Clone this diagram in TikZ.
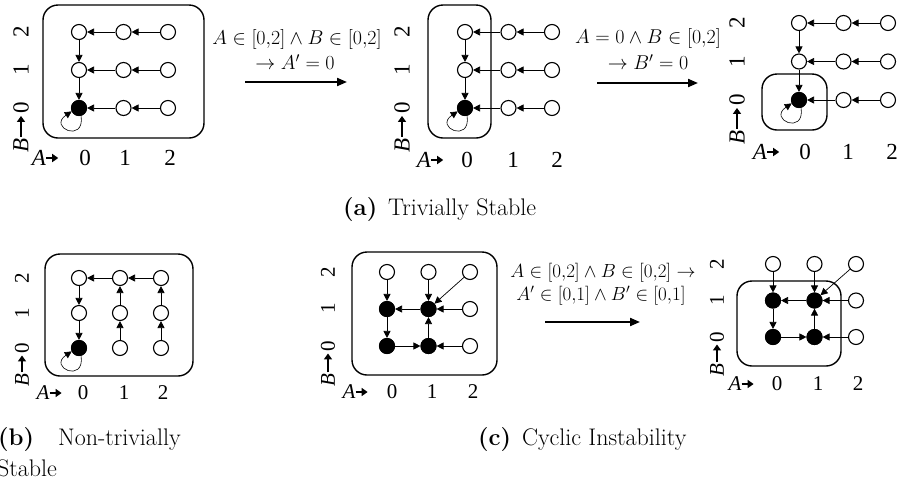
\RequirePackage{fix-cm}
\documentclass[tikz,border=0pt]{standalone}
\usepackage{fontspec}
\newfontfamily\axfont{Liberation Serif}
\usetikzlibrary{arrows.meta}
\tikzset{
 st/.style={circle,draw,line width=1.1pt,minimum size=15pt,inner sep=0pt,fill=white},
 edge/.style={line width=0.7pt,-{Triangle[length=7pt,width=7pt]}},
 loopedge/.style={line width=0.6pt,-{Triangle[length=7pt,width=7pt]}},
 frame/.style={draw,line width=1.4pt,rounded corners=15pt},
 axl/.style={font=\axfont\fontsize{23}{27}\selectfont,inner sep=0pt},
 axarr/.style={line width=2pt,-{Triangle[length=6pt,width=8pt]}},
 trans/.style={line width=2pt,-{Triangle[length=10pt,width=8pt]}},
 lab/.style={font=\fontsize{20}{24}\selectfont,inner sep=0pt},
 clab/.style={font=\fontsize{19}{22}\selectfont,inner sep=0pt},
 capt/.style={font=\fontsize{24}{28}\selectfont,inner sep=0pt,anchor=west}
}
\newcommand\mkgrid[5]{\foreach \i in {0,1,2}{\foreach \j in {0,1,2}{\node[st] (#1\i\j) at ({#2+\i*#4},{#3-\j*#5}) {};}}}
\newcommand\fillst[1]{\foreach \n in {#1}{\fill (\n.center) circle[radius=8pt];}}
\newcommand\selfloop[1]{\draw[loopedge] (#1.-75) .. controls +(4,28) and +(-24,16) .. (#1.205);}
\newcommand\vaxis[6]{%
 \node[axl,rotate=90] (#1v0) at (#2,#3) {0};
 \node[axl,rotate=90] (#1v1) at (#2,#4) {1};
 \node[axl,rotate=90] (#1v2) at (#2,#5) {2};
 \node[axl,rotate=90] (#1vB) at (#2,#6) {\itshape B};
 \draw[axarr,shorten <=1pt,shorten >=2pt] (#1vB.east) -- (#1v0.west);}
\newcommand\haxis[6]{%
 \node[axl] (#1hA) at (#3,#2) {\itshape A};
 \node[axl] (#1h0) at (#4,#2) {0};
 \node[axl] (#1h1) at (#5,#2) {1};
 \node[axl] (#1h2) at (#6,#2) {2};
 \coordinate (#1hAs) at ([xshift=0pt]#1hA.east);
 \coordinate (#1hAe) at ([xshift=12pt]#1hA.east);
 \draw[axarr] (#1hAs) -- (#1hAe);}
\newcommand\aedges[1]{\foreach \s/\t in {20/10,10/00,21/11,11/01,22/12,12/02,02/01,01/00}{\draw[edge] (#1\s) -- (#1\t);}\selfloop{#100}}
\newcommand\cedges[1]{\foreach \s/\t in {02/01,12/11,22/11,11/01,21/11,01/00,00/10,10/11,20/10}{\draw[edge] (#1\s) -- (#1\t);}}
\begin{document}
\begin{tikzpicture}[x=1pt,y=-1pt]
\useasboundingbox (0,0) rectangle (903,483);
% frames
\draw[frame] (43,5) rectangle (204,138);
\draw[frame] (428,5) rectangle (491,138);
\draw[frame] (762,74) rectangle (827,130);
\draw[frame] (45,254) rectangle (193,376);
\draw[frame] (352,252) rectangle (497,375);
\draw[frame] (737,281) rectangle (841,366);
% grids
\mkgrid{a1}{79}{108}{44.5}{38}
\mkgrid{a2}{465}{108}{43.5}{38}
\mkgrid{a3}{799}{100}{44.5}{38.5}
\mkgrid{b}{79}{348}{41}{35}
\mkgrid{c1}{387}{346}{41.5}{37}
\mkgrid{c2}{773}{337}{41.5}{36.5}
\fillst{a100,a200,a300,b00,c101,c111,c100,c110,c201,c211,c200,c210}
% edges
\aedges{a1}
\aedges{a2}
\aedges{a3}
\foreach \s/\t in {22/12,12/02,02/01,01/00,10/11,11/12,20/21,21/22}{\draw[edge] (b\s) -- (b\t);}
\selfloop{b00}
\cedges{c1}
\cedges{c2}
% axes
\vaxis{a1}{21}{108}{70}{32}{145}
\haxis{a1}{158}{39}{85}{125}{170}
\vaxis{a2}{402}{108}{70}{32}{145}
\haxis{a2}{160}{424}{467}{513}{557}
\vaxis{a3}{737}{100}{62}{23}{137}
\haxis{a3}{152}{760}{805}{848}{892}
\begin{scope}[axl/.style={font=\axfont\fontsize{21}{25}\selectfont,inner sep=0pt}]
\vaxis{b}{22}{348}{313}{278}{380}
\haxis{b}{393}{43}{83}{124}{163}
\vaxis{c1}{328}{346}{308}{272}{380}
\haxis{c1}{392}{349}{392}{432}{473}
\vaxis{c2}{717}{337}{300}{264}{370}
\haxis{c2}{384}{735}{777}{818}{858}
\end{scope}
% transitions
\node[lab] (t1a) at (297,39) {$A \in [0{,}2] \wedge B \in [0{,}2]$};
\node[lab] (t1b) at (295,62) {$\to A' = 0$};
\coordinate (t1s) at (245,82); \coordinate (t1e) at (347,82);
\draw[trans] (t1s) -- (t1e);
\node[lab] (t2a) at (648,38) {$A = 0 \wedge B \in [0{,}2]$};
\node[lab] (t2b) at (648,62) {$\to B' = 0$};
\coordinate (t2s) at (597,83); \coordinate (t2e) at (698,83);
\draw[trans] (t2s) -- (t2e);
\node[clab] (t3a) at (603,273) {$A \in [0{,}2] \wedge B \in [0{,}2] \to$};
\node[clab] (t3b) at (601,296) {$A' \in [0{,}1] \wedge B' \in [0{,}1]$};
\coordinate (t3s) at (545,322); \coordinate (t3e) at (640,322);
\draw[trans] (t3s) -- (t3e);
% captions
\node[capt] (capa) at (343,210) {\textbf{(a)}\hspace{0.45em}Trivially Stable};
\node[capt] (capb1) at (-2,440) {\textbf{(b)}};
\node[capt] (capb2) at (58,440) {Non-trivially};
\node[capt] (capb3) at (-3,468) {Stable};
\node[capt] (capc) at (478,440) {\textbf{(c)}\hspace{0.45em}Cyclic Instability};
\end{tikzpicture}
\end{document}
